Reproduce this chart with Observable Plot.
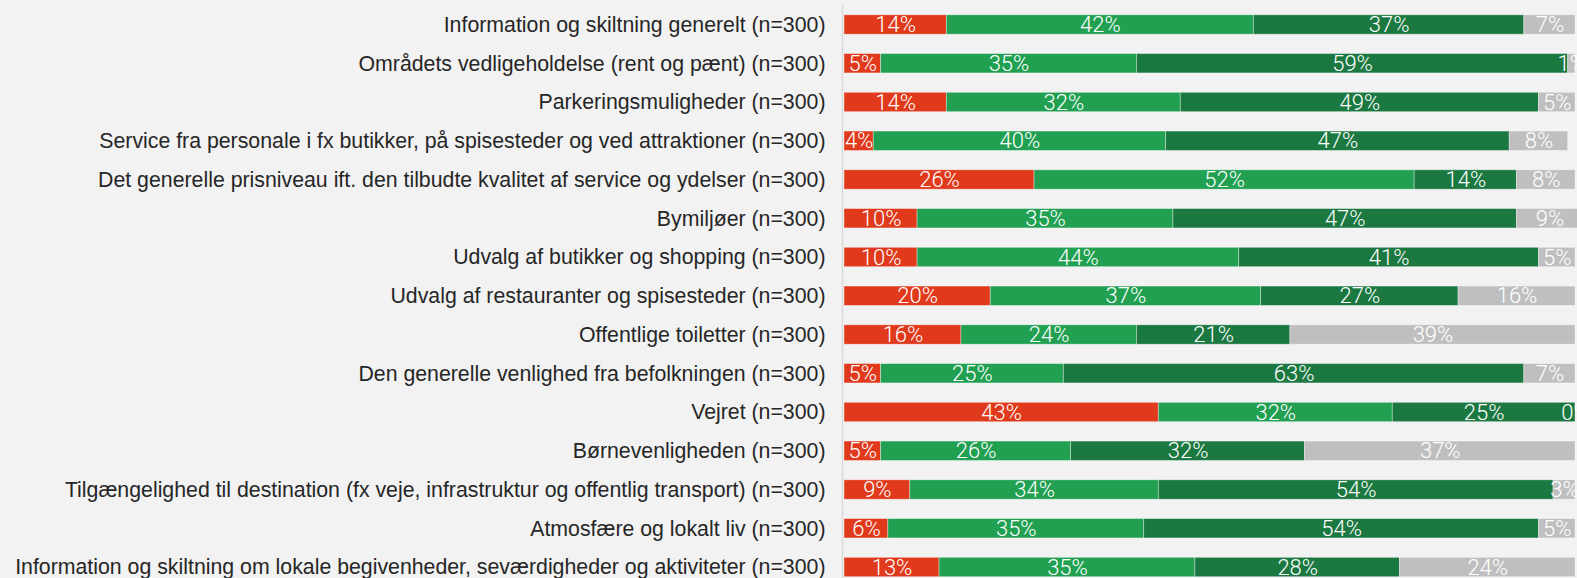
<!DOCTYPE html>
<html>
<head>
<meta charset="utf-8">
<script src="https://cdn.jsdelivr.net/npm/d3@7"></script>
<script src="https://cdn.jsdelivr.net/npm/@observablehq/plot@0.6"></script>
<style>
  html, body { margin: 0; padding: 0; background: #f2f2f2; overflow: hidden; }
  #chart { width: 1577px; height: 578px; overflow: hidden; }
</style>
</head>
<body>
<div id="chart"></div>
<script>
const categories = [
  "Information og skiltning generelt (n=300)",
  "Områdets vedligeholdelse (rent og pænt) (n=300)",
  "Parkeringsmuligheder (n=300)",
  "Service fra personale i fx butikker, på spisesteder og ved attraktioner (n=300)",
  "Det generelle prisniveau ift. den tilbudte kvalitet af service og ydelser (n=300)",
  "Bymiljøer (n=300)",
  "Udvalg af butikker og shopping (n=300)",
  "Udvalg af restauranter og spisesteder (n=300)",
  "Offentlige toiletter (n=300)",
  "Den generelle venlighed fra befolkningen (n=300)",
  "Vejret (n=300)",
  "Børnevenligheden (n=300)",
  "Tilgængelighed til destination (fx veje, infrastruktur og offentlig transport) (n=300)",
  "Atmosfære og lokalt liv (n=300)",
  "Information og skiltning om lokale begivenheder, seværdigheder og aktiviteter (n=300)"
];
const seriesNames = ["Negativ", "Positiv", "Meget positiv", "Ved ikke"];
const negativ      = [14, 5, 14, 4, 26, 10, 10, 20, 16, 5, 43, 5, 9, 6, 13];
const positiv      = [42, 35, 32, 40, 52, 35, 44, 37, 24, 25, 32, 26, 34, 35, 35];
const megetPositiv = [37, 59, 49, 47, 14, 47, 41, 27, 21, 63, 25, 32, 54, 54, 28];
const vedIkke      = [7, 1, 5, 8, 8, 9, 5, 16, 39, 7, 0, 37, 3, 5, 24];
const seriesColors = ["#e0391b", "#21a052", "#1a7840", "#bfbfbf"];

const seriesValues = [negativ, positiv, megetPositiv, vedIkke];
const table = [];
seriesNames.forEach((s, si) => {
  categories.forEach((c, ci) => {
    table.push({category: c, series: s, value: seriesValues[si][ci]});
  });
});

const plot = Plot.plot({
  width: 1577,
  height: 578,
  marginLeft: 844,
  marginRight: 2,
  marginTop: 5,
  marginBottom: 0,
  style: {background: "#f2f2f2", overflow: "hidden"},
  x: {domain: [0, 100], axis: null},
  y: {domain: categories, range: [14.8, 576.7], paddingInner: 0.5, paddingOuter: 0, round: false, label: null},
  color: {domain: seriesNames, range: seriesColors},
  marks: [
    Plot.ruleX([0], {stroke: "#d9d9d9", strokeWidth: 1.5, dx: -2}),
    Plot.barX(table, Plot.stackX({
      x: "value", y: "category", z: "series", fill: "series",
      stroke: "white", strokeOpacity: 0.45, strokeWidth: 0.8
    })),
    Plot.text(table, Plot.stackX({
      x: "value", y: "category", z: "series",
      text: d => d.value + "%",
      fill: "white", fontSize: 22, fontFamily: "Roboto", fontWeight: 300, dy: 0
    })),
    Plot.axisY({tickSize: 0, tickPadding: 19, fontSize: 21.3, fontFamily: "Liberation Sans, Arial, sans-serif", fill: "#262626", label: null})
  ]
});
document.getElementById("chart").appendChild(plot);
</script>
</body>
</html>
